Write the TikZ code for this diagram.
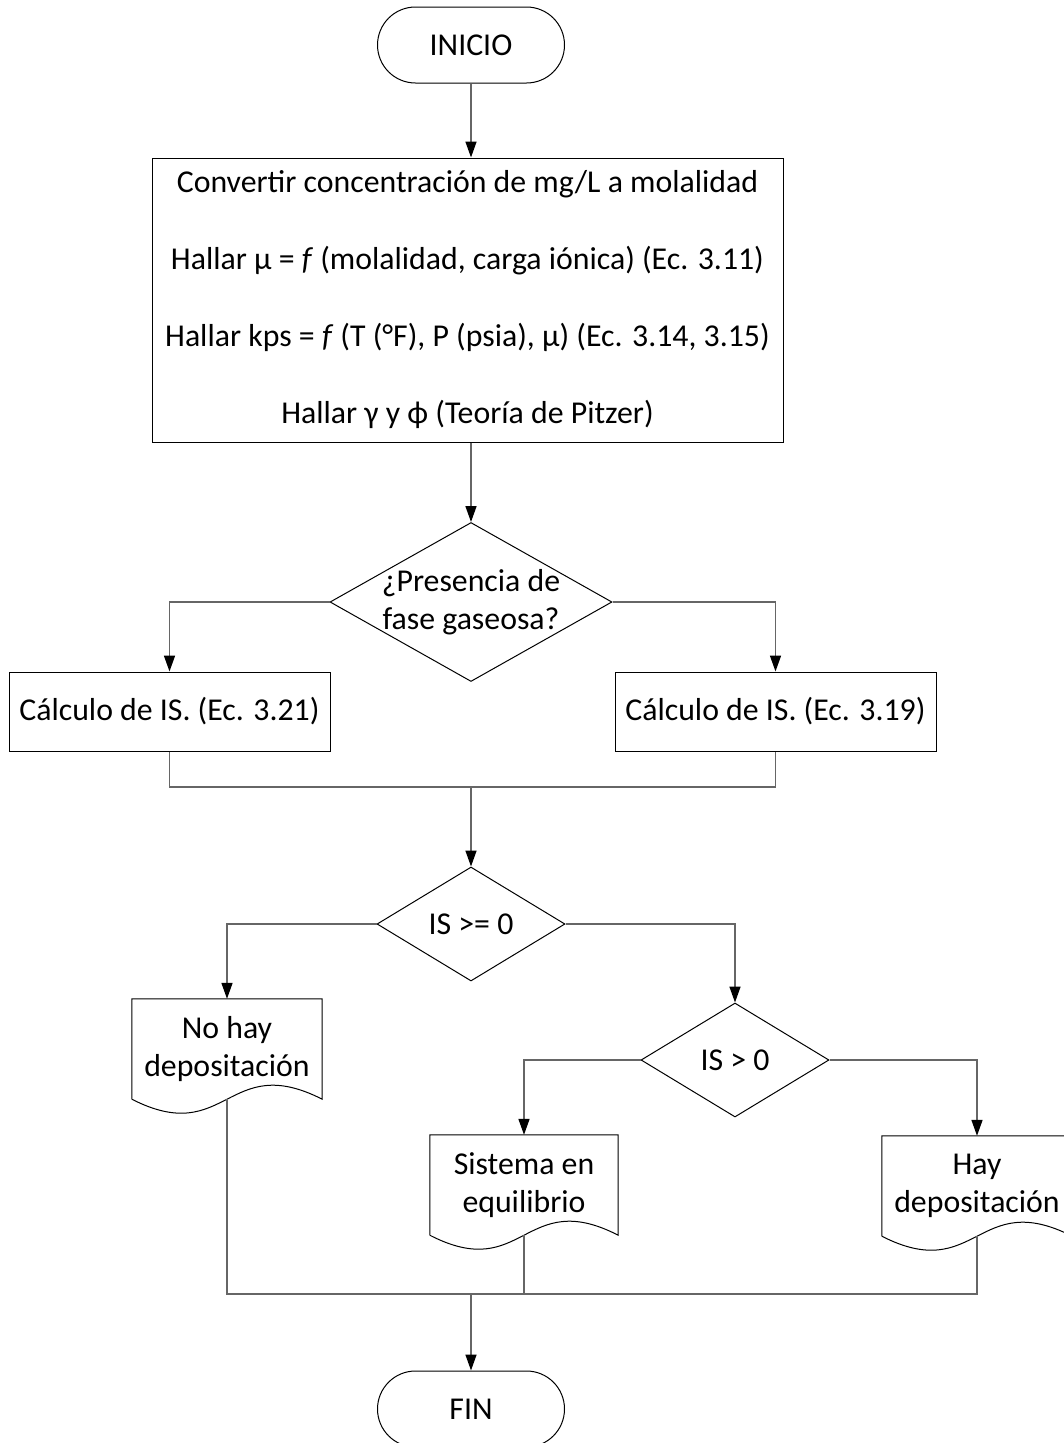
\documentclass[tikz,border=0pt]{standalone}
\usepackage{fontspec}
\setmainfont{Carlito}
\usetikzlibrary{arrows.meta,shapes.geometric}

\tikzset{
    flow/.tip = {Triangle[length=16pt,width=11pt]},
    term/.style = {draw, line width=1pt, rounded corners=38pt, minimum width=187pt, minimum height=76pt},
    proc/.style = {draw, line width=1pt, inner sep=0pt, align=center},
    decis/.style = {draw, line width=1pt, diamond, inner sep=-30pt, align=center},
    docbox/.style = {inner sep=0pt, minimum height=100pt, align=center},
    conn/.style = {draw=black!60, line width=1.6pt}
}

% hoja con borde inferior ondulado
\newcommand{\docline}[1]{%
  \draw[line width=1pt] (#1.south west) -- (#1.north west) -- (#1.north east) -- (#1.south east)
    .. controls ([yshift=48.5pt]#1.south) and ([yshift=-48.5pt]#1.south) .. (#1.south west);}

\begin{document}
\begin{tikzpicture}[x=1pt, y=-1pt, font=\fontsize{31.8pt}{38.5pt}\selectfont]
\useasboundingbox (0,0) rectangle (1063,1443);

\node[term] (inicio) at (471,45) {INICIO};

\node[proc, minimum width=631pt, minimum height=284pt] (datos) at (467.5,300) {%
Convertir concentración de mg/L a molalidad\\[38.5pt]
Hallar µ = \textit{f} (molalidad, carga iónica) (Ec. 3.11)\\[38.5pt]
Hallar kps = \textit{f} (T (°F), P (psia), µ) (Ec. 3.14, 3.15)\\[38.5pt]
Hallar γ y ϕ (Teoría de Pitzer)};

\node[decis, minimum width=282pt, minimum height=159pt] (gas) at (471,602) {¿Presencia de\\fase gaseosa?};

\node[proc, minimum width=321pt, minimum height=79pt] (calcA) at (169.5,711.5) {Cálculo de IS. (Ec. 3.21)};
\node[proc, minimum width=321pt, minimum height=79pt] (calcB) at (775.5,711.5) {Cálculo de IS. (Ec. 3.19)};
\coordinate (union1) at (471,787);

\node[decis, minimum width=188pt, minimum height=114pt] (isge) at (471,924) {IS >= 0};
\node[decis, minimum width=188pt, minimum height=114pt] (isgt) at (735,1060) {IS > 0};

\node[docbox, minimum width=190pt] (nohay) at (227,1049) {No hay\\depositación};
\node[docbox, minimum width=188pt] (equil) at (524,1185) {Sistema en\\equilibrio};
\node[docbox, minimum width=190pt] (hay) at (977,1186) {Hay\\depositación};
\docline{nohay}
\docline{equil}
\docline{hay}
\coordinate (union2) at (471,1294);

\node[term] (fin) at (471,1409) {FIN};

% conectores
\draw[conn, -{flow[black]}] (inicio.south) -- (inicio.south |- datos.north);
\draw[conn, -{flow[black]}] (gas.north |- datos.south) -- (gas.north);
\draw[conn, -{flow[black]}] (gas.west) -| (calcA.north);
\draw[conn, -{flow[black]}] (gas.east) -| (calcB.north);
\draw[conn] (calcA.south) |- (union1) -| (calcB.south);
\draw[conn, -{flow[black]}] (union1) -- (isge.north);
\draw[conn, -{flow[black]}] (isge.west) -| (nohay.north);
\draw[conn, -{flow[black]}] (isge.east) -| (isgt.north);
\draw[conn, -{flow[black]}] (isgt.west) -| (equil.north);
\draw[conn, -{flow[black]}] (isgt.east) -| (hay.north);
\draw[conn] (nohay.south) |- (union2) -| (hay.south);
\draw[conn] (equil.south) -- (equil.south |- union2);
\draw[conn, -{flow[black]}] (union2) -- (fin.north);
\end{tikzpicture}
\end{document}
